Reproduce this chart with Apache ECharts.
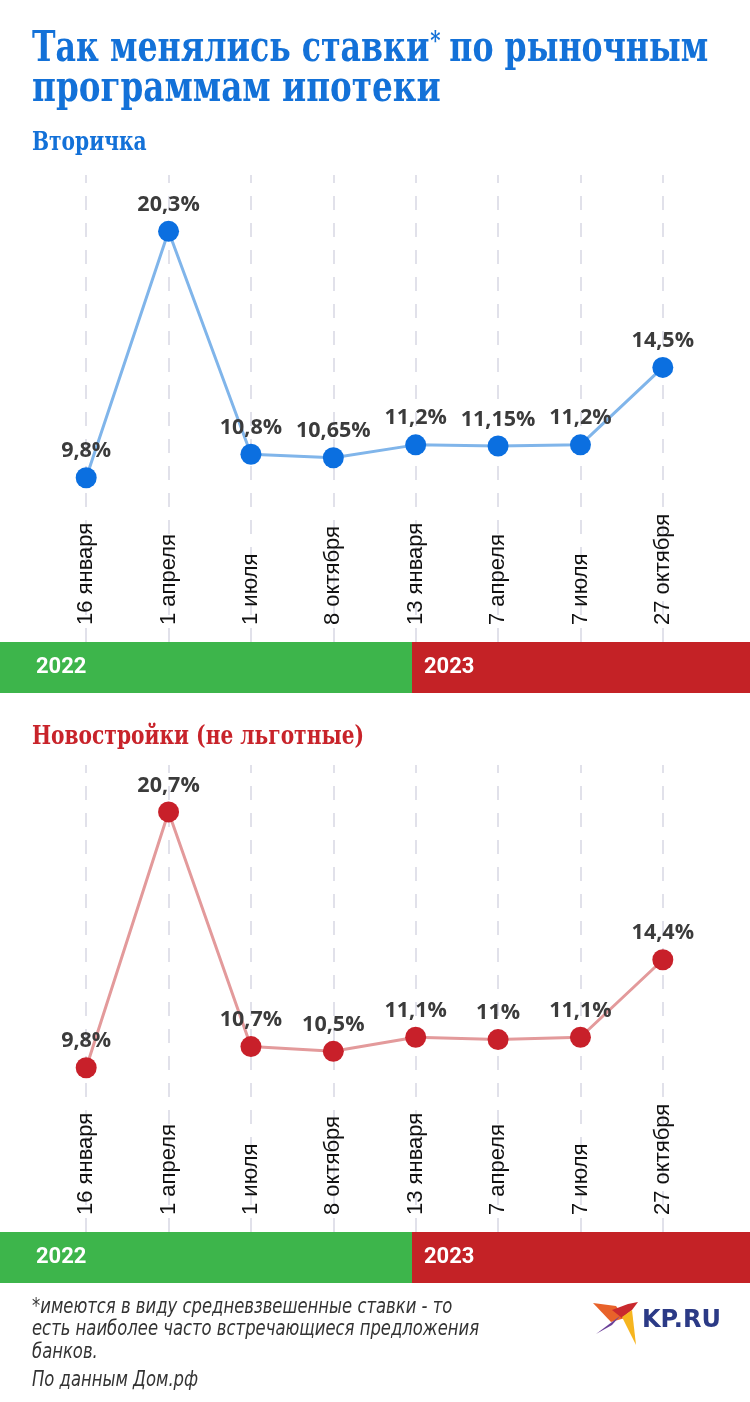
<!DOCTYPE html>
<html>
<head>
<meta charset="utf-8">
<script src="https://cdn.jsdelivr.net/npm/echarts@6/dist/echarts.min.js"></script>
<style>
html,body{margin:0;padding:0;background:#fff;}
#chart{width:750px;height:1402px;}
</style>
</head>
<body>
<div id="chart"></div>
<script>
// ---- data ----
const categories = ['16 января', '1 апреля', '1 июля', '8 октября', '13 января', '7 апреля', '7 июля', '27 октября'];
const resaleRates = [9.8, 20.3, 10.8, 10.65, 11.2, 11.15, 11.2, 14.5];
const newBuildRates = [9.8, 20.7, 10.7, 10.5, 11.1, 11.0, 11.1, 14.4];
const years = ['2022', '2023'];
const titleLine1 = 'Так менялись ставки';
const titleStar = '*';
const titleLine1b = ' по рыночным';
const titleLine2 = 'программам ипотеки';
const resaleTitle = 'Вторичка';
const newBuildTitle = 'Новостройки (не льготные)';
const footnoteText = '*имеются в виду средневзвешенные ставки - то\nесть наиболее часто встречающиеся предложения\nбанков.';
const sourceText = 'По данным Дом.рф';
const logoText = 'KP.RU';

// ---- styles ----
const BLUE = '#1371d8';
const RED = '#c8232a';
const GREEN = '#3db54b';
const BAR_RED = '#c42226';
const SERIF = '"DejaVu Serif", serif';
const SERIF_SCALE = 0.777;
const fmt = v => String(v).replace('.', ',') + '%';

const chart = echarts.init(document.getElementById('chart'), null, {renderer: 'canvas'});

function xAxisFor(gi) {
  return {
    type: 'category', gridIndex: gi, data: categories, boundaryGap: true,
    axisLine: {show: false}, axisTick: {show: false}, splitLine: {show: false},
    axisLabel: {inside: true, rotate: 90, margin: 17, fontSize: 22, color: '#111',
      fontFamily: 'Liberation Sans, Arial, sans-serif'}
  };
}
function yAxisFor(gi) {
  return {type: 'value', gridIndex: gi, min: 2.8, max: 22.7, show: false, splitLine: {show: false}};
}
function seriesFor(gi, data, dotColor, lineColor) {
  return {
    type: 'line', xAxisIndex: gi, yAxisIndex: gi, data: data,
    symbol: 'circle', symbolSize: 21,
    itemStyle: {color: dotColor, borderWidth: 0},
    lineStyle: {color: lineColor, width: 3},
    label: {show: true, position: 'top', distance: 5, formatter: p => fmt(p.value),
      fontFamily: 'Open Sans, sans-serif', fontWeight: 'bold', fontSize: 21.5, color: '#3b3b3b'},
    markLine: {
      silent: true, symbol: ['none', 'none'], label: {show: false}, z: 0,
      lineStyle: {color: '#d8d8e4', type: [14, 13], width: 1.5},
      data: categories.map(c => ({xAxis: c}))
    },
    z: 3
  };
}

const bandTop1 = 642, bandTop2 = 1232, bandH = 51, splitX = 412;
const yearStyle = {fill: '#fff', font: 'bold 22px Roboto, sans-serif'};
const footFont = 'italic 22px "DejaVu Sans Condensed", sans-serif';

function txt(x, y, text, font, fill, sx, extra) {
  return Object.assign({type: 'text', x: x, y: y, scaleX: sx || 1,
    style: {text: text, font: font, fill: fill}}, extra || {});
}

// measure title pieces for the superscript star
const probe = document.createElement('canvas').getContext('2d');
probe.font = 'bold 42px ' + SERIF;
const w1 = probe.measureText(titleLine1).width;
probe.font = 'bold 26px ' + SERIF;
const wStar = probe.measureText(titleStar).width;

const option = {
  backgroundColor: '#fff',
  animation: false,
  grid: [
    {left: 45, right: 46, top: 175, height: 467},
    {left: 45, right: 46, top: 765, height: 467}
  ],
  xAxis: [xAxisFor(0), xAxisFor(1)],
  yAxis: [yAxisFor(0), yAxisFor(1)],
  series: [
    seriesFor(0, resaleRates, '#0b6fe0', '#80b5ea'),
    seriesFor(1, newBuildRates, '#c8202a', '#e39a9b')
  ],
  graphic: [
    // titles
    {type: 'group', x: 32, y: 29, scaleX: SERIF_SCALE * 0.97, children: [
      {type: 'text', x: 0, y: 0, style: {text: titleLine1, font: 'bold 42px ' + SERIF, fill: BLUE}},
      {type: 'text', x: w1 + 1, y: 0, style: {text: titleStar, font: 'bold 26px ' + SERIF, fill: BLUE}},
      {type: 'text', x: w1 + wStar - 2, y: 0, style: {text: titleLine1b, font: 'bold 42px ' + SERIF, fill: BLUE}}
    ]},
    {type: 'text', x: 32, y: 69, scaleX: SERIF_SCALE, style: {text: titleLine2, font: 'bold 42px ' + SERIF, fill: BLUE}},
    txt(32, 130, resaleTitle, 'bold 26px ' + SERIF, BLUE, SERIF_SCALE),
    txt(32, 724, newBuildTitle, 'bold 26px ' + SERIF, RED, SERIF_SCALE),
    // year bands
    {type: 'rect', shape: {x: 0, y: bandTop1, width: splitX, height: bandH}, style: {fill: GREEN}, z: 5},
    {type: 'rect', shape: {x: splitX, y: bandTop1, width: 750 - splitX, height: bandH}, style: {fill: BAR_RED}, z: 5},
    {type: 'text', x: 36, y: bandTop1 + bandH / 2, style: Object.assign({text: years[0], textVerticalAlign: 'middle'}, yearStyle), z: 6},
    {type: 'text', x: splitX + 12, y: bandTop1 + bandH / 2, style: Object.assign({text: years[1], textVerticalAlign: 'middle'}, yearStyle), z: 6},
    {type: 'rect', shape: {x: 0, y: bandTop2, width: splitX, height: bandH}, style: {fill: GREEN}, z: 5},
    {type: 'rect', shape: {x: splitX, y: bandTop2, width: 750 - splitX, height: bandH}, style: {fill: BAR_RED}, z: 5},
    {type: 'text', x: 36, y: bandTop2 + bandH / 2, style: Object.assign({text: years[0], textVerticalAlign: 'middle'}, yearStyle), z: 6},
    {type: 'text', x: splitX + 12, y: bandTop2 + bandH / 2, style: Object.assign({text: years[1], textVerticalAlign: 'middle'}, yearStyle), z: 6},
    // footnote
    {type: 'text', x: 32, y: 1296, scaleX: 0.83, style: {text: footnoteText, fill: '#333', font: footFont, lineHeight: 22.5}},
    {type: 'text', x: 32, y: 1369, scaleX: 0.83, style: {text: sourceText, fill: '#333', font: footFont}},
    // logo
    {type: 'polygon', shape: {points: [[593,1303],[616,1306],[625,1318],[611,1322]]}, style: {fill: '#e8622a'}},
    {type: 'polygon', shape: {points: [[612,1310],[628,1304],[638,1302],[632,1310],[622,1318]]}, style: {fill: '#c9292e'}},
    {type: 'polygon', shape: {points: [[622,1317],[632,1310],[636,1345]]}, style: {fill: '#f6b51f'}},
    {type: 'polygon', shape: {points: [[596,1334],[620,1316],[612,1325]]}, style: {fill: '#6a3f98'}},
    {type: 'text', x: 642, y: 1321, style: {text: logoText, fill: '#2b3a86', font: 'bold 24px "DejaVu Sans", sans-serif', textVerticalAlign: 'middle'}}
  ]
};
chart.setOption(option);
</script>
</body>
</html>
